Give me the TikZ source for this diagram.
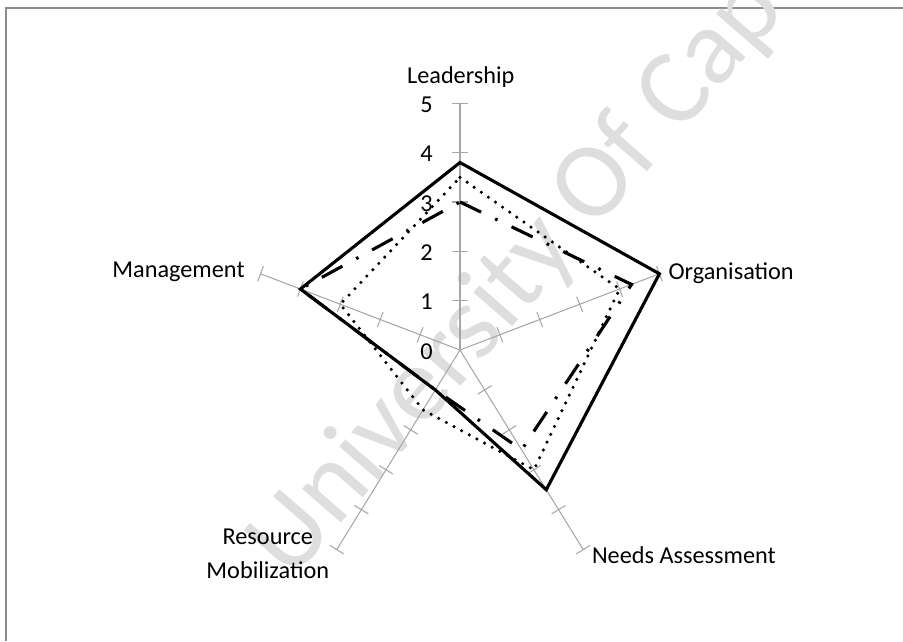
\documentclass[tikz,border=0pt]{standalone}
\usepackage{fontspec}
\setmainfont{Carlito}
\usetikzlibrary{calc}
\definecolor{axisgray}{RGB}{166,166,166}
\definecolor{framegray}{RGB}{140,140,140}
\definecolor{markgray}{RGB}{222,222,222}
\tikzset{
  axisline/.style={draw=axisgray,line width=0.6pt},
  solidseries/.style={line width=1.8pt},
  dotseries/.style={line width=2pt,line cap=round,dash pattern=on 0pt off 5pt},
  dashdotseries/.style={line width=1.8pt,dash pattern=on 13.5pt off 9pt on 1.5pt off 9pt},
  axislabel/.style={inner sep=0pt,font=\fontsize{14}{20}\selectfont},
}
\begin{document}
\begin{tikzpicture}
\fill[white] (-9.323,-5.898) rectangle (8.979,7.094);
\useasboundingbox (-9.323,-5.898) rectangle (8.979,7.094);
\draw[framegray,line width=1.2pt] (-9.201,-5.898) -- (-9.201,6.931) -- (8.979,6.931);
\node[rotate=49,text=markgray,font=\fontsize{62}{62}\selectfont] (mark) at (3.24,3.85) {University Of Cape Town};
\begin{scope}[x=0.85cm]
\foreach \a/\n in {90/lead,18/org,-54/needs,234/res,162/man}{
  \coordinate (\n) at (\a:5);
  \draw[axisline] (0,0) -- (\n);
  \foreach \r in {1,...,5}
    \draw[axisline] ($(\a:\r)!0.165cm!90:(0,0)$) -- ($(\a:\r)!0.165cm!-90:(0,0)$);
}
\draw[solidseries] (90:3.8) -- (18:5) -- (-54:3.5) -- (234:1) -- (162:4) -- cycle;
\draw[dotseries] (90:3.5) -- (18:4) -- (-54:3) -- (234:1.5) -- (162:3) -- cycle;
\draw[dashdotseries] (90:3) -- (18:4.3) -- (-54:2.5) -- (234:1) -- (162:4) -- cycle;
\end{scope}
\foreach \r in {0,...,5}
  \node[axislabel,anchor=east] (val\r) at (-0.547,\r-0.03) {\r};
\node[axislabel,anchor=base] (leadlab) at (0.016,5.405) {Leadership};
\node[axislabel,anchor=base west] (orglab) at (4.222,1.419) {Organisation};
\node[axislabel,anchor=base west] (needslab) at (2.669,-4.323) {Needs Assessment};
\node[axislabel,anchor=north,align=center] (reslab) at (-3.895,-3.614) {Resource\\Mobilization};
\node[axislabel,anchor=base east] (manlab) at (-4.358,1.473) {Management};
\end{tikzpicture}
\end{document}
